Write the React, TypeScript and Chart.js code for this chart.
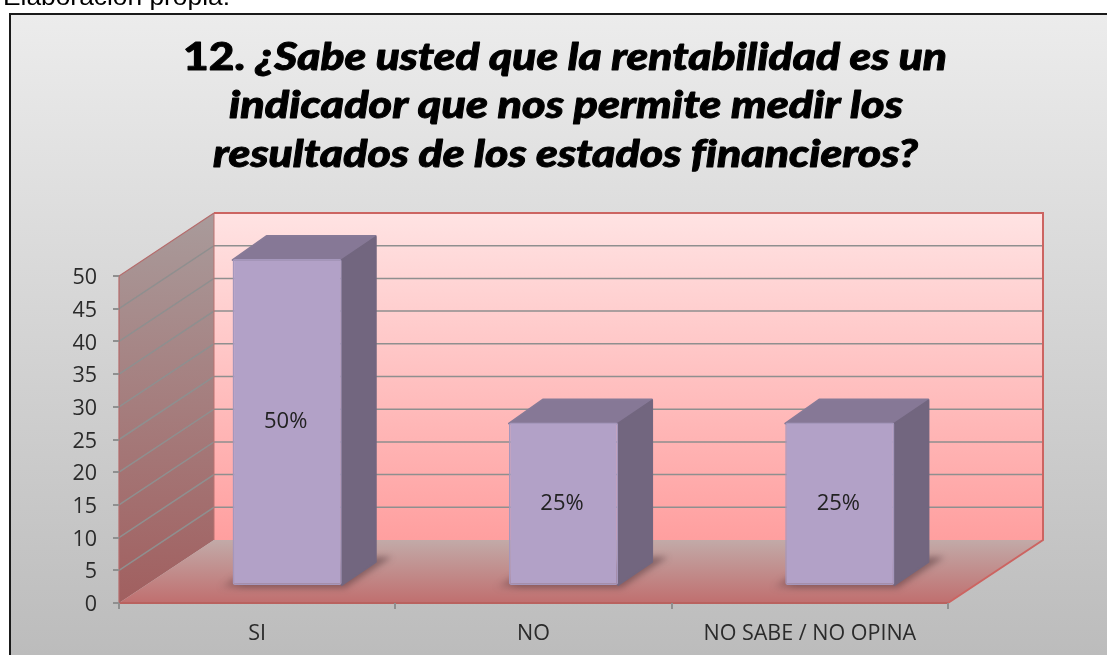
import React, { useEffect, useRef } from "react";
import { Chart, registerables } from "chart.js";

Chart.register(...registerables);

const categories = ["SI", "NO", "NO SABE / NO OPINA"];
const values = [50, 25, 25];
const yMax = 50;
const yStep = 5;
const caption = "Elaboración propia.";
const titleLead = "12. ";
const titleLines = [
  "¿Sabe usted que la rentabilidad es un",
  "indicador que nos permite medir los",
  "resultados de los estados financieros?",
];

const W = 1107;
const H = 655;
const wallDX = 95;
const wallDY = -63;
const barDX = 30;
const barDY = -17;
const boxDX = 34;
const boxDY = -23;
const tickFont = '"Open Sans"';

const poly = (ctx: CanvasRenderingContext2D, pts: number[][]) => {
  ctx.beginPath();
  pts.forEach(([x, y], i) => (i ? ctx.lineTo(x, y) : ctx.moveTo(x, y)));
  ctx.closePath();
};

const fitText = (
  ctx: CanvasRenderingContext2D,
  runs: { text: string; font: string }[],
  left: number,
  width: number,
  baseline: number,
  stroke = 0
) => {
  ctx.save();
  (ctx as any).letterSpacing = "0.01px";
  let total = 0;
  runs.forEach((r) => {
    ctx.font = r.font;
    total += ctx.measureText(r.text).width;
  });
  const sx = width / total;
  ctx.translate(left, baseline);
  ctx.scale(sx, 1);
  ctx.textAlign = "left";
  ctx.textBaseline = "alphabetic";
  ctx.lineJoin = "round";
  ctx.strokeStyle = ctx.fillStyle as string;
  ctx.lineWidth = stroke;
  let x = 0;
  runs.forEach((r) => {
    ctx.font = r.font;
    ctx.fillText(r.text, x, 0);
    if (stroke > 0) ctx.strokeText(r.text, x, 0);
    x += ctx.measureText(r.text).width;
  });
  ctx.restore();
};

const scenePlugin = {
  id: "scene3d",
  beforeDraw(chart: any) {
    const { ctx, chartArea: a, scales } = chart;
    const y = scales.y;
    ctx.save();
    ctx.fillStyle = "#ffffff";
    ctx.fillRect(0, 0, W, H);

    const bg = ctx.createLinearGradient(0, 14, 0, H);
    bg.addColorStop(0, "#ececec");
    bg.addColorStop(1, "#bcbcbc");
    ctx.fillStyle = bg;
    ctx.fillRect(10, 14, W - 10, H - 14);
    ctx.fillStyle = "#1a1a1a";
    ctx.fillRect(9, 13, W - 9, 2);
    ctx.fillRect(9, 13, 2, H - 13);

    ctx.fillStyle = "#000000";
    fitText(ctx, [{ text: caption, font: '24px "Liberation Sans"' }], 3, 227, 5);

    const boldU = '900 37px "Lato"';
    const boldI = 'italic 900 37px "Lato"';
    fitText(ctx, [{ text: titleLead, font: boldU }, { text: titleLines[0], font: boldI }], 183, 764, 70, 0.9);
    fitText(ctx, [{ text: titleLines[1], font: boldI }], 229, 674, 118, 0.9);
    fitText(ctx, [{ text: titleLines[2], font: boldI }], 213, 705, 167, 0.9);

    const l = a.left, r = a.right, t = a.top, b = a.bottom;
    const bl = l + wallDX, br = r + wallDX, bt = t + wallDY, bb = b + wallDY;

    const back = ctx.createLinearGradient(0, bt, 0, bb);
    back.addColorStop(0, "#ffe3e3");
    back.addColorStop(1, "#ff9f9f");
    ctx.fillStyle = back;
    ctx.fillRect(bl, bt, br - bl, bb - bt);

    const side = ctx.createLinearGradient(0, bt, 0, b);
    side.addColorStop(0, "#a99b9b");
    side.addColorStop(1, "#a15f5f");
    ctx.fillStyle = side;
    poly(ctx, [[l, t], [bl, bt], [bl, bb], [l, b]]);
    ctx.fill();

    const floor = ctx.createLinearGradient(0, bb, 0, b);
    floor.addColorStop(0, "#c2aaa8");
    floor.addColorStop(1, "#c06f6f");
    ctx.fillStyle = floor;
    poly(ctx, [[l, b], [r, b], [br, bb], [bl, bb]]);
    ctx.fill();

    ctx.strokeStyle = "#8f8f8f";
    ctx.lineWidth = 1.5;
    y.ticks.forEach((tk: any) => {
      if (tk.value === 0 || tk.value === yMax) return;
      const py = y.getPixelForValue(tk.value);
      ctx.beginPath();
      ctx.moveTo(l, py);
      ctx.lineTo(bl, py + wallDY);
      ctx.lineTo(br, py + wallDY);
      ctx.stroke();
    });

    ctx.lineWidth = 1;
    ctx.strokeStyle = "#bb7270";
    ctx.beginPath();
    ctx.moveTo(bl, bb);
    ctx.lineTo(bl, bt);
    ctx.stroke();
    ctx.lineWidth = 2;
    ctx.strokeStyle = "#cc6461";
    ctx.beginPath();
    ctx.moveTo(bl, bt);
    ctx.lineTo(br, bt);
    ctx.lineTo(br, bb);
    ctx.lineTo(r, b);
    ctx.stroke();
    ctx.lineWidth = 1.2;
    ctx.strokeStyle = "#b56b6b";
    ctx.beginPath();
    ctx.moveTo(bl, bt);
    ctx.lineTo(l, t);
    ctx.lineTo(l, b);
    ctx.stroke();
    ctx.lineWidth = 2;
    ctx.strokeStyle = "#b9625f";
    ctx.beginPath();
    ctx.moveTo(l, b);
    ctx.lineTo(r, b);
    ctx.stroke();
    ctx.restore();

    chart.getDatasetMeta(0).data.forEach((bar: any) => {
      const fl = bar.x - bar.width / 2 + barDX;
      const fr = bar.x + bar.width / 2 + barDX;
      const fb = y.getPixelForValue(0) + barDY;
      ctx.save();
      ctx.filter = "blur(3px)";
      const g = ctx.createLinearGradient(fl - 15, 0, fl + 10, 0);
      g.addColorStop(0, "rgba(70,45,50,0)");
      g.addColorStop(1, "rgba(70,45,50,0.48)");
      ctx.fillStyle = g;
      poly(ctx, [
        [fl - 14, fb + 2],
        [fr + 3, fb + 2],
        [fr + boxDX + 16, fb + boxDY - 6],
        [fr + boxDX, fb + boxDY - 6],
        [fl, fb - 8],
      ]);
      ctx.fill();
      ctx.restore();
    });
  },
  beforeDatasetDraw(chart: any) {
    const { ctx } = chart;
    chart.getDatasetMeta(0).data.forEach((bar: any) => {
      const fl = bar.x - bar.width / 2 + barDX;
      const fr = bar.x + bar.width / 2 + barDX;
      const ft = bar.y + barDY;
      const fb = bar.base + barDY;
      ctx.save();
      ctx.lineJoin = "round";
      ctx.lineWidth = 2;
      ctx.strokeStyle = "#877a97";
      ctx.fillStyle = "#867896";
      poly(ctx, [[fl, ft + 1], [fr, ft + 1], [fr + boxDX, ft + boxDY], [fl + boxDX, ft + boxDY]]);
      ctx.fill();
      ctx.stroke();
      ctx.strokeStyle = "#72667f";
      ctx.fillStyle = "#72667f";
      poly(ctx, [[fr, ft + 1], [fr + boxDX, ft + boxDY + 1], [fr + boxDX, fb + boxDY], [fr, fb]]);
      ctx.fill();
      ctx.stroke();
      ctx.restore();
    });
    ctx.save();
    ctx.translate(barDX, barDY);
  },
  afterDatasetDraw(chart: any) {
    const { ctx } = chart;
    ctx.restore();
    chart.getDatasetMeta(0).data.forEach((bar: any, i: number) => {
      const fl = bar.x - bar.width / 2 + barDX;
      const fr = bar.x + bar.width / 2 + barDX;
      const ft = bar.y + barDY;
      const fb = bar.base + barDY;
      ctx.save();
      ctx.fillStyle = "#222222";
      ctx.font = `22px ${tickFont}`;
      ctx.textAlign = "center";
      ctx.textBaseline = "middle";
      ctx.fillText(`${values[i]}%`, (fl + fr) / 2 - 1.5, (ft + fb) / 2);
      ctx.restore();
    });
  },
};

export default function App() {
  const ref = useRef<HTMLCanvasElement>(null);
  useEffect(() => {
    if (!ref.current) return;
    const chart = new Chart(ref.current, {
      type: "bar",
      data: {
        labels: categories,
        datasets: [
          {
            data: values,
            backgroundColor: "#b2a1c7",
            borderColor: "#a597bc",
            borderWidth: 1.5,
            borderRadius: 2,
            borderSkipped: false,
            barPercentage: 0.395,
            categoryPercentage: 1,
          },
        ],
      },
      options: {
        animation: false,
        responsive: false,
        devicePixelRatio: 1,
        layout: { autoPadding: false, padding: { left: 0, top: 276, right: 159, bottom: 0 } },
        plugins: { legend: { display: false }, title: { display: false }, tooltip: { enabled: false } },
        scales: {
          x: {
            afterFit: (s: any) => {
              s.height = 52;
            },
            border: { display: false },
            grid: { drawOnChartArea: false, tickLength: 6, color: "#8f8f8f", lineWidth: 2 },
            ticks: { color: "#2b2b2b", padding: 12, maxRotation: 0, font: { family: tickFont, size: 21.5 } },
          },
          y: {
            min: 0,
            max: yMax,
            afterFit: (s: any) => {
              s.width = 119;
            },
            border: { display: false },
            grid: { drawOnChartArea: false, tickLength: 6, color: "#8f8f8f", lineWidth: 2 },
            ticks: { stepSize: yStep, color: "#2b2b2b", padding: 16, labelOffset: 2, font: { family: tickFont, size: 21.5 } },
          },
        },
      },
      plugins: [scenePlugin],
    } as any);
    return () => chart.destroy();
  }, []);
  return (
    <canvas
      ref={ref}
      width={W}
      height={H}
      style={{ position: "fixed", left: 0, top: 0, width: W, height: H, display: "block" }}
    />
  );
}
